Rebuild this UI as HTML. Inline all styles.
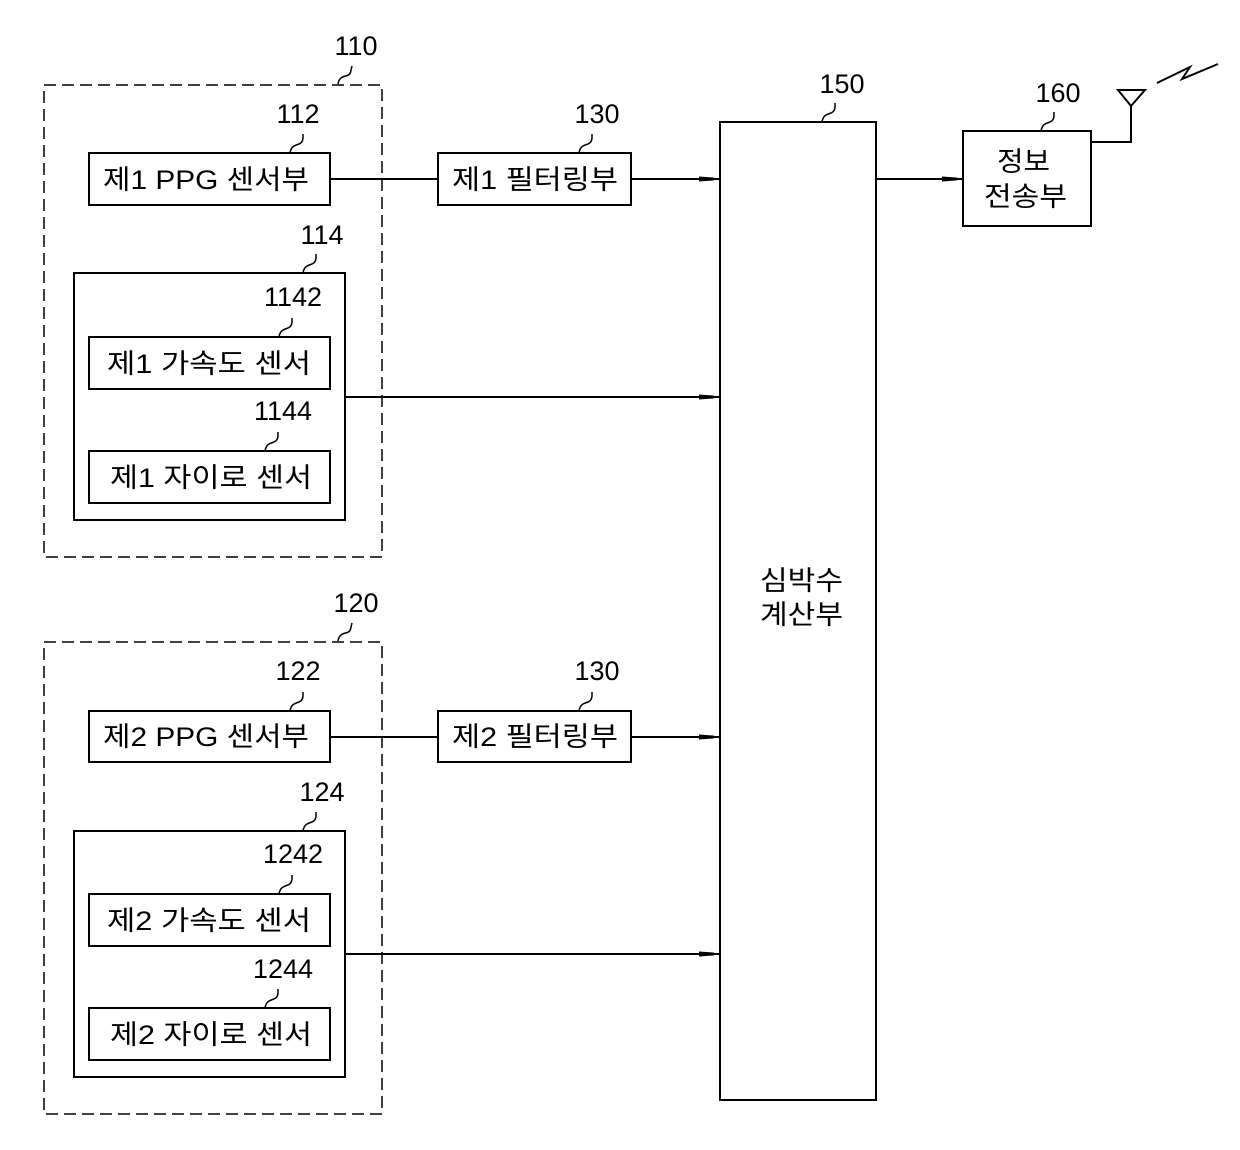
<!DOCTYPE html>
<html><head><meta charset="utf-8"><style>
html,body{margin:0;padding:0;background:#fff;}
svg{display:block;}
text{font-family:"Liberation Sans","Noto Sans CJK KR","NanumGothic",sans-serif;fill:#000;}
.n{font-size:27px;}
.t{font-size:27px;}
</style></head><body>
<svg width="1240" height="1150" viewBox="0 0 1240 1150" xmlns="http://www.w3.org/2000/svg">
<defs>
<marker id="a" markerWidth="22" markerHeight="8" refX="20" refY="4" orient="auto" markerUnits="userSpaceOnUse">
<path d="M0,1.5 L14,2.5 L20,4 L14,5.5 L0,6.5 Z" fill="#000"/>
</marker>
</defs>
<g fill="none" stroke="#000" stroke-width="2">
<!-- group 110 -->
<rect x="44" y="85" width="338" height="472" stroke-dasharray="12,6" stroke-width="1.5"/>
<rect x="89" y="153" width="241" height="52"/>
<rect x="438" y="153" width="193" height="52"/>
<rect x="74" y="273" width="271" height="247"/>
<rect x="89" y="337" width="241" height="52"/>
<rect x="89" y="451" width="241" height="52"/>
<!-- group 120 -->
<rect x="44" y="642" width="338" height="472" stroke-dasharray="12,6" stroke-width="1.5"/>
<rect x="89" y="711" width="241" height="51"/>
<rect x="438" y="711" width="193" height="51"/>
<rect x="74" y="831" width="271" height="246"/>
<rect x="89" y="894" width="241" height="52"/>
<rect x="89" y="1008" width="241" height="52"/>
<!-- 150 -->
<rect x="720" y="122" width="156" height="978"/>
<!-- 160 -->
<rect x="963" y="131" width="128" height="95"/>
<!-- connectors -->
<line x1="330" y1="179" x2="438" y2="179"/>
<line x1="631" y1="179" x2="719" y2="179" marker-end="url(#a)"/>
<line x1="345" y1="397" x2="719" y2="397" marker-end="url(#a)"/>
<line x1="330" y1="737" x2="438" y2="737"/>
<line x1="631" y1="737" x2="719" y2="737" marker-end="url(#a)"/>
<line x1="345" y1="954" x2="719" y2="954" marker-end="url(#a)"/>
<line x1="876" y1="179" x2="962" y2="179" marker-end="url(#a)"/>
<!-- antenna -->
<polyline points="1091,142 1131,142 1131,106"/>
<polygon points="1118,90 1145,90 1131,106"/>
<polyline points="1157,83 1190,67 1182,79 1218,64"/>
<!-- squiggles -->
<g stroke-width="1.5">
<path d="M338,84 C340,72 350,80 351,70 L352,66"/>
<path d="M290,153 C292,141 302,148 303,138 L303,134"/>
<path d="M579,153 C581,141 591,148 592,138 L592,134"/>
<path d="M822,122 C824,110 834,117 835,107 L835,103"/>
<path d="M1041,131 C1043,119 1053,126 1054,116 L1054,112"/>
<path d="M303,273 C305,261 315,268 316,258 L316,254"/>
<path d="M279,337 C281,325 291,332 292,322 L292,318"/>
<path d="M265,451 C267,439 277,446 278,436 L278,432"/>
<path d="M338,641 C340,629 350,637 351,627 L352,623"/>
<path d="M290,711 C292,699 302,706 303,696 L303,692"/>
<path d="M579,711 C581,699 591,706 592,696 L592,692"/>
<path d="M303,831 C305,819 315,826 316,816 L316,812"/>
<path d="M279,894 C281,882 291,889 292,879 L292,875"/>
<path d="M265,1008 C267,996 277,1003 278,993 L278,989"/>
</g>
</g>
<!-- numbers -->
<g class="n" text-anchor="middle">
<text x="356" y="55">110</text>
<text x="298" y="123">112</text>
<text x="597" y="123">130</text>
<text x="842" y="93">150</text>
<text x="1058" y="102">160</text>
<text x="322" y="244">114</text>
<text x="293" y="306">1142</text>
<text x="283" y="420">1144</text>
<text x="356" y="612">120</text>
<text x="298" y="680">122</text>
<text x="597" y="680">130</text>
<text x="322" y="801">124</text>
<text x="293" y="863">1242</text>
<text x="283" y="978">1244</text>
</g>
<!-- labels -->
<g class="t">
<text x="103" y="189" textLength="206" lengthAdjust="spacingAndGlyphs">제1 PPG 센서부</text>
<text x="452" y="189" textLength="166" lengthAdjust="spacingAndGlyphs">제1 필터링부</text>
<text x="107" y="373" textLength="204" lengthAdjust="spacingAndGlyphs">제1 가속도 센서</text>
<text x="110" y="487" textLength="202" lengthAdjust="spacingAndGlyphs">제1 자이로 센서</text>
<text x="103" y="746" textLength="206" lengthAdjust="spacingAndGlyphs">제2 PPG 센서부</text>
<text x="452" y="746" textLength="166" lengthAdjust="spacingAndGlyphs">제2 필터링부</text>
<text x="107" y="930" textLength="204" lengthAdjust="spacingAndGlyphs">제2 가속도 센서</text>
<text x="110" y="1044" textLength="202" lengthAdjust="spacingAndGlyphs">제2 자이로 센서</text>
<text x="760" y="590" textLength="83" lengthAdjust="spacingAndGlyphs">심박수</text>
<text x="760" y="624" textLength="83" lengthAdjust="spacingAndGlyphs">계산부</text>
<text x="997" y="171" textLength="53" lengthAdjust="spacingAndGlyphs">정보</text>
<text x="984" y="206" textLength="83" lengthAdjust="spacingAndGlyphs">전송부</text>
</g>
</svg>
</body></html>
